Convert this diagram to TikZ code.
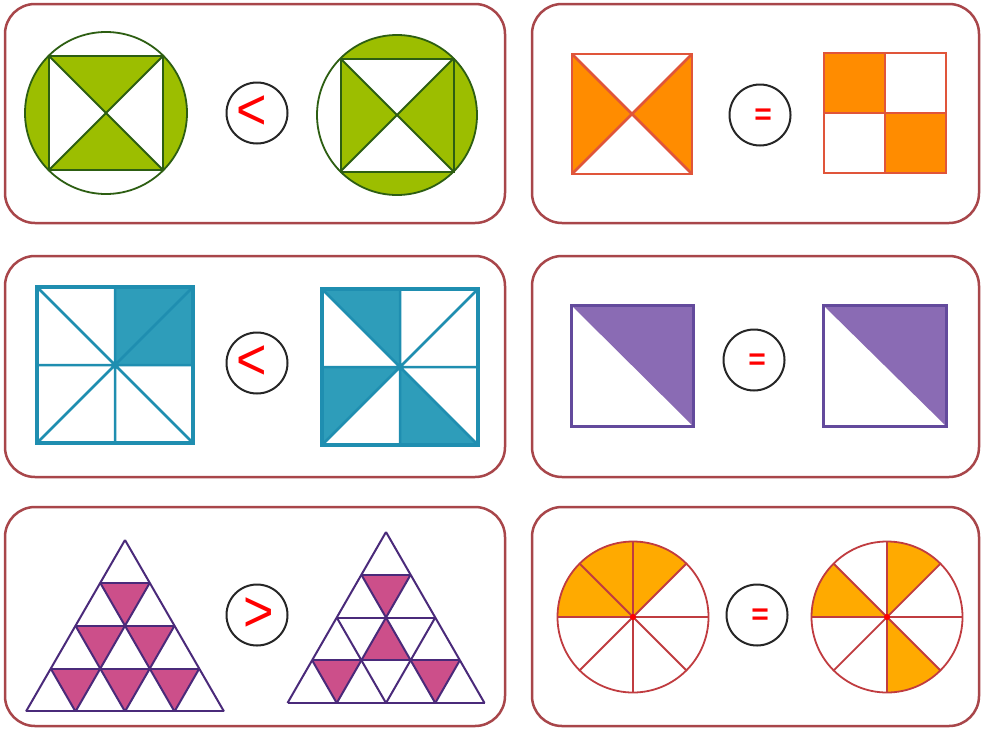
\documentclass[tikz,border=0pt]{standalone}
\usepackage{fontspec}
\newfontfamily\symfont{Liberation Sans}
\definecolor{framecol}{HTML}{A8464A}
\definecolor{grfill}{HTML}{9CBE00}
\definecolor{grline}{HTML}{2D5E12}
\definecolor{orfill}{HTML}{FF8C00}
\definecolor{orline}{HTML}{E0553A}
\definecolor{tefill}{HTML}{2E9DBA}
\definecolor{teline}{HTML}{1F8EB0}
\definecolor{pufill}{HTML}{8A6BB4}
\definecolor{puline}{HTML}{634A9C}
\definecolor{pkfill}{HTML}{CC4F8A}
\definecolor{pkline}{HTML}{4A2A7A}
\definecolor{yofill}{HTML}{FFAA00}
\definecolor{yoline}{HTML}{C03C40}
\begin{document}
\begin{tikzpicture}[x=1pt,y=-1pt,
  frame/.style={draw=framecol, line width=2.5pt, rounded corners=30pt},
  cmp/.style={circle, draw=black!85, line width=2pt, minimum size=61pt, inner sep=0pt},
  ltsym/.style={text=red, inner sep=0pt, font=\symfont\fontsize{58}{58}\selectfont, xscale=0.9},
  eqsym/.style={text=red, inner sep=0pt, font=\symfont\bfseries\fontsize{30}{30}\selectfont},
  grl/.style={draw=grline, line width=2pt},
  orl/.style={draw=orline, line width=2.5pt},
  tel/.style={draw=teline, line width=2.5pt},
  pul/.style={draw=puline, line width=3pt},
  pkl/.style={draw=pkline, line width=2pt},
  yol/.style={draw=yoline, line width=1.8pt}]
\useasboundingbox (0,0) rectangle (981,728);
\fill[white] (0,0) rectangle (981,728);

% frames
\draw[frame] (5,4) rectangle (505,223);
\draw[frame] (532,4) rectangle (979,223);
\draw[frame] (5,256) rectangle (505,477);
\draw[frame] (532,256) rectangle (979,477);
\draw[frame] (5,507) rectangle (505,726);
\draw[frame] (532,507) rectangle (979,726);

% ---------- panel 1 ----------
\begin{scope}
  \clip (106,113) circle (81);
  \fill[grfill] (0,0) rectangle (49,300);
  \fill[grfill] (163,0) rectangle (300,300);
\end{scope}
\fill[grfill] (49,56) -- (163,56) -- (106,113) -- cycle;
\fill[grfill] (49,170) -- (163,170) -- (106,113) -- cycle;
\draw[grl, line width=1.8pt] (106,113) circle (81);
\draw[grl] (49,56) rectangle (163,170);
\draw[grl] (49,56) -- (163,170) (163,56) -- (49,170);

\begin{scope}
  \clip (397,115) circle (80);
  \fill[grfill] (300,0) rectangle (500,58.5);
  \fill[grfill] (300,171.5) rectangle (500,300);
  \fill[grfill] (453.5,0) rectangle (500,300);
\end{scope}
\fill[grfill] (340.5,58.5) -- (397,115) -- (340.5,171.5) -- cycle;
\fill[grfill] (453.5,58.5) -- (397,115) -- (453.5,171.5) -- cycle;
\draw[grl, line width=1.8pt] (397,115) circle (80);
\draw[grl] (340.5,58.5) rectangle (453.5,171.5);
\draw[grl] (340.5,58.5) -- (453.5,171.5) (453.5,58.5) -- (340.5,171.5);

\node[cmp] (c1) at (257,113) {};
\node[ltsym] (s1) at (c1.center) [xshift=-6pt] {<};

% ---------- panel 2 ----------
\fill[orfill] (572,54) -- (632,114) -- (572,174) -- cycle;
\fill[orfill] (692,54) -- (632,114) -- (692,174) -- cycle;
\draw[orl] (572,54) rectangle (692,174);
\draw[orl] (572,54) -- (692,174) (692,54) -- (572,174);

\fill[orfill] (824,53) rectangle (885,113);
\fill[orfill] (885,113) rectangle (946,173);
\draw[orl] (824,53) rectangle (946,173);
\draw[orl] (885,53) -- (885,173) (824,113) -- (946,113);

\node[cmp] (c2) at (760,115) {};
\node[eqsym] (s2) at (c2.center) [xshift=3pt, yshift=-2pt] {=};

% ---------- panel 3 ----------
\fill[tefill] (115,287) rectangle (193,365);
\draw[tel] (37,287) -- (193,443) (193,287) -- (37,443)
           (115,287) -- (115,443) (37,365) -- (193,365);
\draw[tel, line width=4.5pt] (37,287) rectangle (193,443);

\fill[tefill] (322,289) -- (400,289) -- (400,367) -- cycle;
\fill[tefill] (322,367) -- (400,367) -- (322,445) -- cycle;
\fill[tefill] (400,367) -- (400,445) -- (478,445) -- cycle;
\draw[tel] (322,289) -- (478,445) (478,289) -- (322,445)
           (400,289) -- (400,445) (322,367) -- (478,367);
\draw[tel, line width=4.5pt] (322,289) rectangle (478,445);

\node[cmp] (c3) at (257,363) {};
\node[ltsym] (s3) at (c3.center) [xshift=-6pt] {<};

% ---------- panel 4 ----------
\fill[pufill] (571,305) -- (693,305) -- (693,426) -- cycle;
\draw[pul] (571,305) rectangle (693,426);
\fill[pufill] (823,305) -- (946,305) -- (946,426) -- cycle;
\draw[pul] (823,305) rectangle (946,426);

\node[cmp] (c4) at (754,360) {};
\node[eqsym] (s4) at (c4.center) [xshift=3pt, yshift=-2pt] {=};

% ---------- panel 5 ----------
\newcommand\tv[2]{({\ax+((#2)-(#1)/2)*\sa},{\ay+(#1)*\sh})}
\begin{scope}
  \def\ax{125}\def\ay{540}\def\sa{49.5}\def\sh{42.87}
  \foreach \r in {1,2,3}{
    \foreach \t in {1,...,\r}{
      \fill[pkfill] \tv{\r}{\t-1} -- \tv{\r}{\t} -- \tv{\r+1}{\t} -- cycle;
    }
  }
  \foreach \i in {1,2,3,4} \draw[pkl] \tv{\i}{0} -- \tv{\i}{\i};
  \foreach \j in {0,1,2,3} \draw[pkl] \tv{\j}{\j} -- \tv{4}{\j};
  \foreach \m in {0,1,2,3} \draw[pkl] \tv{\m}{0} -- \tv{4}{4-\m};
\end{scope}
\begin{scope}
  \def\ax{386}\def\ay{532}\def\sa{49.25}\def\sh{42.75}
  \fill[pkfill] \tv{1}{0} -- \tv{1}{1} -- \tv{2}{1} -- cycle;
  \fill[pkfill] \tv{2}{1} -- \tv{3}{1} -- \tv{3}{2} -- cycle;
  \fill[pkfill] \tv{3}{0} -- \tv{3}{1} -- \tv{4}{1} -- cycle;
  \fill[pkfill] \tv{3}{2} -- \tv{3}{3} -- \tv{4}{3} -- cycle;
  \foreach \i in {1,2,3,4} \draw[pkl] \tv{\i}{0} -- \tv{\i}{\i};
  \foreach \j in {0,1,2,3} \draw[pkl] \tv{\j}{\j} -- \tv{4}{\j};
  \foreach \m in {0,1,2,3} \draw[pkl] \tv{\m}{0} -- \tv{4}{4-\m};
\end{scope}

\node[cmp] (c5) at (257,615) {};
\node[ltsym] (s5) at (c5.center) [xshift=2pt] {>};

% ---------- panel 6 ----------
\fill[yofill] (633,617) -- ++(-45:75.5) arc[start angle=-45, end angle=-180, radius=75.5] -- cycle;
\draw[yol] (633,617) circle (75.5);
\foreach \a in {0,45,90,135} \draw[yol] (633,617) ++(\a:75.5) -- ++(\a+180:151);
\fill[red] (633,617) circle (3);

\fill[yofill] (887,617) -- ++(-45:75.5) arc[start angle=-45, end angle=-90, radius=75.5] -- cycle;
\fill[yofill] (887,617) -- ++(-135:75.5) arc[start angle=-135, end angle=-180, radius=75.5] -- cycle;
\fill[yofill] (887,617) -- ++(45:75.5) arc[start angle=45, end angle=90, radius=75.5] -- cycle;
\draw[yol] (887,617) circle (75.5);
\foreach \a in {0,45,90,135} \draw[yol] (887,617) ++(\a:75.5) -- ++(\a+180:151);
\fill[red] (887,617) circle (3);

\node[cmp] (c6) at (757,615) {};
\node[eqsym] (s6) at (c6.center) [xshift=3pt, yshift=-2pt] {=};
\end{tikzpicture}
\end{document}
